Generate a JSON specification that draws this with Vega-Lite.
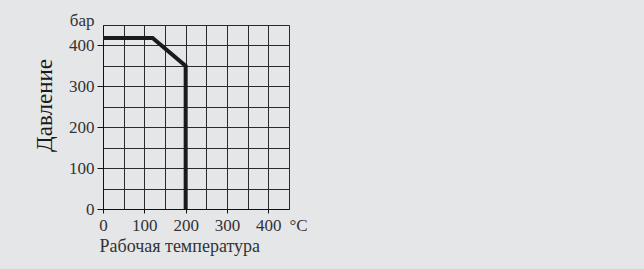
{
  "$schema": "https://vega.github.io/schema/vega-lite/v6.json",
  "autosize": "none",
  "width": 186,
  "height": 184,
  "padding": {"left": 103, "top": 25, "right": 355, "bottom": 60},
  "background": "#e5e6e8",
  "config": {
    "view": {"stroke": null},
    "font": "Liberation Serif"
  },
  "data": {
    "values": [
      {"order": 1, "temp": 0, "pressure": 418},
      {"order": 2, "temp": 120, "pressure": 418},
      {"order": 3, "temp": 200, "pressure": 350},
      {"order": 4, "temp": 200, "pressure": 0}
    ]
  },
  "mark": {"type": "line", "color": "#1a1a1a", "strokeWidth": 4, "strokeJoin": "miter", "strokeCap": "butt"},
  "encoding": {
    "order": {"field": "order", "type": "quantitative"},
    "x": {
      "field": "temp",
      "type": "quantitative",
      "scale": {"domain": [0, 450], "nice": false, "zero": false},
      "axis": {
        "values": [0, 50, 100, 150, 200, 250, 300, 350, 400, 450],
        "labelExpr": "datum.value == 450 ? '  °C' : (datum.value % 100 == 0 ? datum.label : '')",
        "grid": true,
        "gridColor": "#2a2a2a",
        "gridOpacity": 1,
        "gridWidth": 1,
        "domainColor": "#111",
        "domainWidth": 1,
        "tickColor": "#111",
        "tickSize": 4,
        "tickOpacity": {"condition": {"test": "datum.value % 100 == 0 && datum.value < 450", "value": 1}, "value": 0},
        "labelFont": "Liberation Serif",
        "labelFontSize": 17,
        "labelColor": "#333",
        "labelPadding": 4,
        "labelFlush": false,
        "labelOverlap": false,
        "labelAlign": {"condition": {"test": "datum.value == 450", "value": "left"}, "value": "center"},
        "title": "Рабочая температура",
        "titleFont": "Liberation Serif",
        "titleFontSize": 18,
        "titleFontWeight": "normal",
        "titleColor": "#333",
        "titleAnchor": "start",
        "titleAlign": "left",
        "titleBaseline": "middle",
        "titleX": -4,
        "titleY": 37
      }
    },
    "y": {
      "field": "pressure",
      "type": "quantitative",
      "scale": {"domain": [0, 450], "nice": false},
      "axis": {
        "values": [0, 50, 100, 150, 200, 250, 300, 350, 400, 450],
        "labelExpr": "datum.value == 450 ? 'бар' : (datum.value % 100 == 0 ? datum.label : '')",
        "grid": true,
        "gridColor": "#2a2a2a",
        "gridOpacity": 1,
        "gridWidth": 1,
        "domainColor": "#111",
        "domainWidth": 1,
        "tickColor": "#111",
        "tickSize": 6,
        "tickOpacity": {"condition": {"test": "datum.value % 100 == 0 && datum.value < 450", "value": 1}, "value": 0},
        "labelFont": "Liberation Serif",
        "labelFontSize": 17,
        "labelColor": "#333",
        "labelPadding": 3,
        "labelFlush": false,
        "labelOverlap": false,
        "labelBaseline": {"condition": {"test": "datum.value == 450", "value": "alphabetic"}, "value": "middle"},
        "title": "Давление",
        "titleFont": "Liberation Serif",
        "titleFontSize": 23,
        "titleFontWeight": "normal",
        "titleColor": "#1a1a1a",
        "titleAngle": -90,
        "titleAlign": "center",
        "titleBaseline": "middle",
        "titleX": -59,
        "titleY": 80
      }
    }
  }
}
